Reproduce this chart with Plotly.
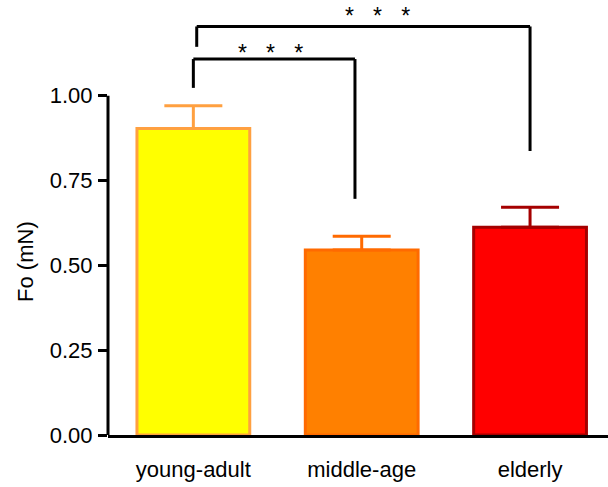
import plotly.graph_objects as go

# Group means and SEM for Fo (mN)
groups = ["young-adult", "middle-age", "elderly"]
fo_mean = [0.903, 0.545, 0.612]
fo_sem = [0.067, 0.041, 0.059]
fill_colors = ["#FFFF00", "#FF8000", "#FF0000"]
edge_colors = ["#FFA040", "#FF6A00", "#A50000"]

y_ticks = [0.0, 0.25, 0.50, 0.75, 1.00]
y_tick_text = ["0.00", "0.25", "0.50", "0.75", "1.00"]

# Significance brackets: (x_left, x_right, y_top, y_left_end, y_right_end, label)
brackets = [
    (0.0, 0.96, 1.108, 1.023, 0.696, "*   *   *"),
    (0.02, 2.0, 1.204, 1.144, 0.837, "*   *   *"),
]
star_pos = [(0.46, 1.127), (1.095, 1.236)]

FONT = "Liberation Sans, Arial, sans-serif"

fig = go.Figure()
for i, g in enumerate(groups):
    fig.add_trace(go.Bar(
        x=[i], y=[fo_mean[i]], width=0.67,
        marker=dict(color=fill_colors[i], line=dict(color=edge_colors[i], width=3)),
        error_y=dict(type="data", array=[fo_sem[i]], arrayminus=[0], symmetric=False,
                     color=edge_colors[i], thickness=3, width=29),
        name=g, showlegend=False,
    ))

shapes = [
    # y axis line only spans the tick range
    dict(type="line", xref="paper", yref="y", x0=0, x1=0, y0=0, y1=1.0,
         line=dict(color="black", width=3)),
]
for (xl, xr, yt, yl, yr, _) in brackets:
    shapes.append(dict(type="line", x0=xl, x1=xl, y0=yl, y1=yt, line=dict(color="black", width=3)))
    shapes.append(dict(type="line", x0=xl, x1=xr, y0=yt, y1=yt, line=dict(color="black", width=3)))
    shapes.append(dict(type="line", x0=xr, x1=xr, y0=yt, y1=yr, line=dict(color="black", width=3)))

annotations = []
for (sx, sy), br in zip(star_pos, brackets):
    annotations.append(dict(x=sx, y=sy, text=br[5], showarrow=False,
                            font=dict(family=FONT, size=23, color="black"),
                            xanchor="center", yanchor="middle"))
annotations.append(dict(xref="paper", x=0, xshift=-82, y=0.51, text="Fo (mN)",
                        textangle=-90, showarrow=False,
                        font=dict(family=FONT, size=22, color="black"),
                        xanchor="center", yanchor="middle"))

fig.update_layout(
    width=608, height=487,
    margin=dict(l=108, r=0, t=0, b=52),
    paper_bgcolor="white", plot_bgcolor="white",
    barmode="overlay",
    shapes=shapes, annotations=annotations,
    xaxis=dict(range=[-0.507, 2.463], tickvals=[0, 1, 2], ticktext=groups,
               showline=True, linecolor="black", linewidth=3, ticks="",
               showgrid=False, zeroline=False, ticklabelstandoff=13,
               tickfont=dict(family=FONT, size=22, color="black")),
    yaxis=dict(range=[0, 1.282], tickvals=y_ticks, ticktext=y_tick_text,
               showline=False, ticks="outside", ticklen=9, tickwidth=3, tickcolor="black",
               showgrid=False, zeroline=False, ticklabelstandoff=1,
               tickfont=dict(family=FONT, size=22, color="black")),
)

fig.write_html("out.html")
